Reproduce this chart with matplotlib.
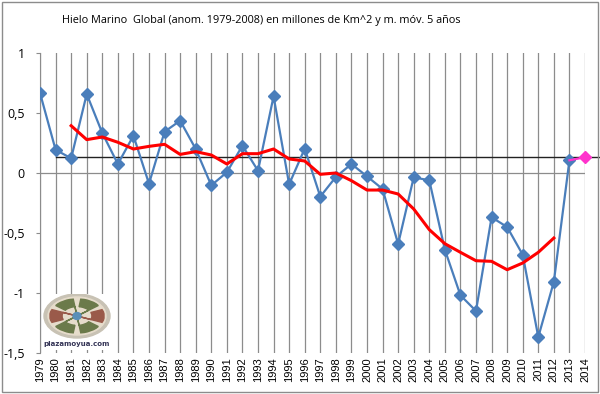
import matplotlib.pyplot as plt
from matplotlib.patches import Ellipse, Rectangle, Wedge
import numpy as np

# Datos
years = list(range(1979, 2014))
anom = [0.667, 0.194, 0.122, 0.658, 0.333, 0.075, 0.311, -0.089, 0.344, 0.436,
        0.200, -0.103, 0.006, 0.228, 0.019, 0.639, -0.094, 0.203, -0.197, -0.033,
        0.075, -0.028, -0.133, -0.592, -0.036, -0.061, -0.639, -1.019, -1.150, -0.369,
        -0.450, -0.681, -1.367, -0.906, 0.106]
mm_years = list(range(1981, 2013))
mm5 = [0.394, 0.278, 0.300, 0.256, 0.200, 0.222, 0.239, 0.155, 0.178, 0.150,
       0.075, 0.161, 0.161, 0.200, 0.117, 0.100, -0.011, 0.000, -0.064, -0.142,
       -0.142, -0.175, -0.300, -0.472, -0.589, -0.661, -0.731, -0.736, -0.806, -0.750,
       -0.661, -0.542]
last_years = [2013, 2014]
last_vals = [0.106, 0.131]
ref_level = 0.133
y_ticks = [1, 0.5, 0, -0.5, -1, -1.5]
y_labels = ["1", "0,5", "0", "-0,5", "-1", "-1,5"]

plt.rcParams['font.family'] = ['Open Sans', 'DejaVu Sans']

fig = plt.figure(figsize=(6, 3.94), dpi=100)
ax = fig.add_axes([40 / 600, 41 / 394, 545 / 600, 300 / 394])

# rejilla vertical
for yr in range(1979, 2015):
    ax.axvline(yr, color="#8c8c8c", lw=0.9, zorder=1)
ax.axhline(0, color="#8c8c8c", lw=0.9, zorder=1)

# linea de referencia
ax.plot([1980, 2015], [ref_level, ref_level], color="#222222", lw=1.0,
        zorder=2, clip_on=False)

ax.plot(years, anom, color="#4a7ebb", lw=1.6, marker="D", ms=6,
        markeredgecolor="#4a7ebb", zorder=3)
ax.plot(mm_years, mm5, color="red", lw=2.2, zorder=4)
ax.plot(last_years, last_vals, color="#ff33cc", lw=1.6, zorder=3)
ax.plot(last_years[1:], last_vals[1:], color="#ff33cc", marker="D", ms=6,
        ls="none", zorder=5, clip_on=False)

ax.set_xlim(1979, 2014)
ax.set_ylim(-1.5, 1)
ax.set_yticks(y_ticks)
ax.set_yticklabels(y_labels, fontsize=9)
ax.set_xticks(range(1979, 2015))
ax.set_xticklabels([str(y) for y in range(1979, 2015)], rotation=90,
                   fontsize=8, family=['Liberation Sans', 'DejaVu Sans'])
ax.tick_params(axis="y", length=3, color="#8c8c8c", pad=8)
ax.tick_params(axis="x", length=0, pad=3)
for s in ["top", "right", "bottom"]:
    ax.spines[s].set_visible(False)
ax.spines["left"].set_color("#8c8c8c")

fig.text(261 / 600, 1 - 21 / 394, "Hielo Marino  Global (anom. 1979-2008) en millones de Km^2 y m. móv. 5 años",
         ha="center", va="center", fontsize=7.8)

# logo
lax = fig.add_axes([42 / 600, 1 - 350 / 394, 70 / 600, 56 / 394])
lax.set_xlim(0, 70)
lax.set_ylim(0, 56)
lax.axis("off")
lax.add_patch(Rectangle((0, 0), 70, 56, color="white", zorder=0))
lax.add_patch(Ellipse((35, 34), 66, 44, color="#c8c2b4", zorder=1))
lax.add_patch(Ellipse((35, 34), 58, 38, color="#e6dccb", zorder=2))
for a, c in [(60, "#6b7a4a"), (120, "#6b7a4a"), (240, "#6b7a4a"), (300, "#6b7a4a"),
             (0, "#9a5a4a"), (180, "#9a5a4a")]:
    w = Wedge((0, 0), 1.0, a - 22, a + 22, width=0.45, color=c)
    verts = w.get_path().vertices * np.array([27, 17]) + np.array([35, 34])
    lax.add_patch(plt.Polygon(verts, color=c, zorder=3))
lax.add_patch(Ellipse((35, 34), 8, 7, color="#5b8fb8", zorder=4))
lax.text(35, 6, "plazamoyua.com", ha="center", va="center", fontsize=5,
         fontweight="bold", color="#333355", family="DejaVu Sans")

# borde del grafico
fig.patches.append(Rectangle((2 / 600, 2 / 394), 596 / 600, 390 / 394,
                             transform=fig.transFigure, fill=False,
                             edgecolor="#8c8c8c", lw=1.0))

fig.savefig("out.png", dpi=100)
